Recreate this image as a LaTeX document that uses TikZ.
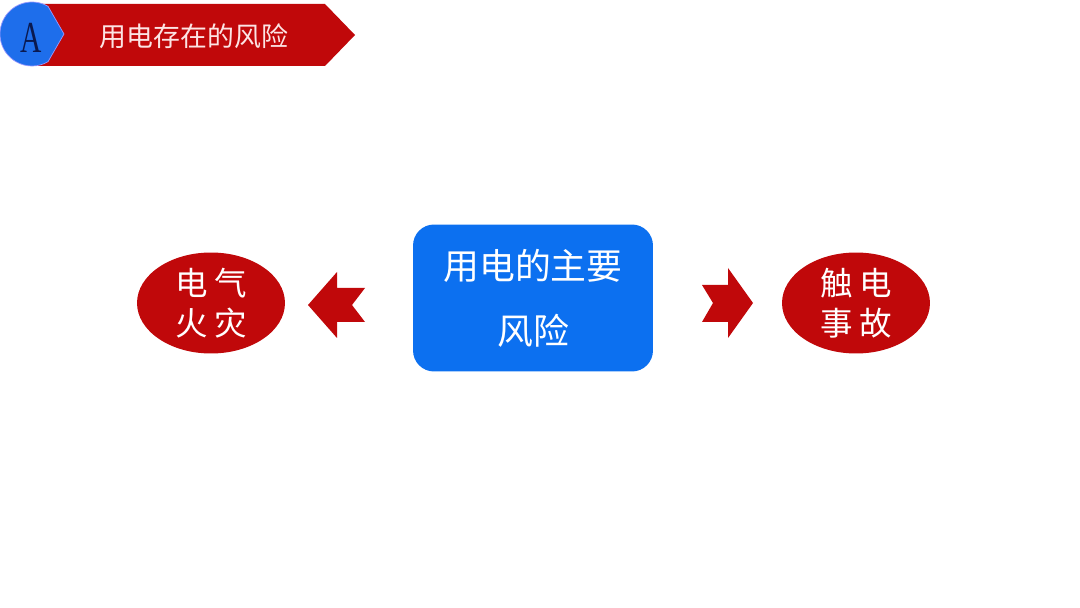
\documentclass[tikz,border=0pt]{standalone}
\usepackage{fontspec}
\newfontfamily\cjk{Noto Sans CJK SC}
\newfontfamily\tagfont{Liberation Serif}
\usetikzlibrary{shapes.geometric}
\definecolor{riskred}{RGB}{192,8,10}
\definecolor{boxblue}{RGB}{12,112,240}
\definecolor{tagblue}{RGB}{30,110,235}
\definecolor{letterblue}{RGB}{10,25,80}
\definecolor{titlepink}{RGB}{252,228,228}
\tikzset{
  risk/.style={ellipse,fill=riskred,text=white,minimum width=2.96cm,minimum height=2.02cm,inner sep=0pt,align=center,font=\cjk\fontsize{18.5}{22.5}\selectfont},
  mainbox/.style={rectangle,rounded corners=0.42cm,fill=boxblue,text=white,minimum width=4.8cm,minimum height=2.94cm,align=center,font=\cjk\fontsize{20.4}{37}\selectfont}
}
\begin{document}
\begin{tikzpicture}[x=0.02cm,y=-0.02cm]
\useasboundingbox (0,0) rectangle (1080,608);

% header
\fill[riskred] (35,4) -- (325,4) -- (355,35) -- (325,66) -- (35,66) -- cycle;
\filldraw[fill=tagblue,draw=blue!40,thin] (48,6.3) arc[start angle=-60,end angle=-300,radius=32] -- (64,34) -- cycle;
\node (tag) at (31,38) {\tagfont\fontsize{24}{24}\selectfont\color{letterblue}\scalebox{0.7}[1.05]{A}};
\node[text=titlepink] (title) at (194,36) {\cjk\fontsize{15.3}{18}\selectfont 用电存在的风险};

% main box and the two risks
\node[mainbox] (main) at (533,298) {用电的主要\\风险};
\node[risk] (fire) at (211,303) {电\hspace{0.2em}气\\火\hspace{0.2em}灾};
\node[risk] (shock) at (856,303) {触\hspace{0.2em}电\\事\hspace{0.2em}故};

% block arrows
\fill[riskred] (308,305) -- (337,272) -- (337,288) -- (365,288) -- (352,305)
  -- (365,322) -- (337,322) -- (337,338) -- cycle;
\fill[riskred] (753,303) -- (728,268) -- (728,285) -- (702,285) -- (713,303)
  -- (702,322) -- (728,322) -- (728,338) -- cycle;
\end{tikzpicture}
\end{document}
